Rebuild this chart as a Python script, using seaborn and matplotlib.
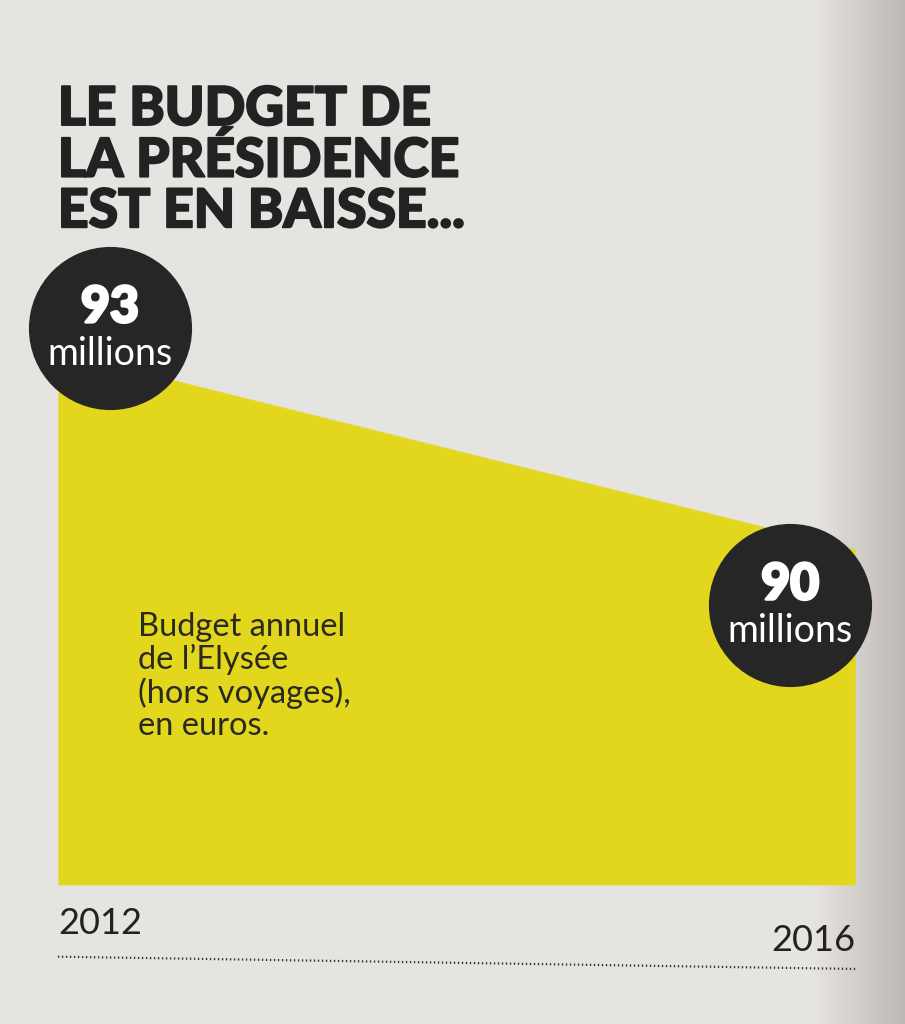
import numpy as np
import pandas as pd
import seaborn as sns
import matplotlib.pyplot as plt
from matplotlib import transforms
import matplotlib.patheffects as pe

years = [2012, 2016]
budget = [93, 90]  # millions d'euros
labels_top = ['93', '90']
year_labels = ['2012', '2016']
title = 'LE BUDGET DE\nLA PRÉSIDENCE\nEST EN BAISSE...'
note = 'Budget annuel\nde l\u2019Elysée\n(hors voyages),\nen euros.'

df = pd.DataFrame({'annee': years, 'budget': budget})

sns.set_theme(style='white')
plt.rcParams['font.family'] = ['Lato', 'DejaVu Sans']

yellow = '#e2d71c'
dark = '#262626'
paper = '#e6e4e1'

fig = plt.figure(figsize=(9.05, 10.24), dpi=100, facecolor=paper)

# page gutter shadow on the right
bg = fig.add_axes([0, 0, 1, 1], zorder=-5)
grad = np.linspace(0, 1, 200)
shade = np.clip((grad - 0.90) / 0.10, 0, 1)
img = np.ones((2, 200, 3))
base = np.array([0xe6, 0xe4, 0xe1]) / 255
edge = np.array([0xbf, 0xb9, 0xb5]) / 255
img[:] = base + (edge - base) * shade[:, None]
bg.imshow(img, aspect='auto', extent=[0, 1, 0, 1])
bg.axis('off')

ax = fig.add_axes([0.064, 0.136, 0.881, 0.5205])
ax.set_facecolor('none')
ax.fill_between(df['annee'], df['budget'], 84.93, color=yellow, lw=0, zorder=1)
sns.lineplot(data=df, x='annee', y='budget', color=yellow, lw=0.5, ax=ax, zorder=1)
ax.set_xlim(2012, 2016)
ax.set_ylim(84.93, 93)
ax.set_xlabel('')
ax.set_ylabel('')
ax.set_yticks([])
ax.set_xticks(years)
ax.set_xticklabels(year_labels, fontsize=26, color='#222222')
ticklabels = ax.get_xticklabels()
ticklabels[0].set_ha('left')
ticklabels[1].set_ha('right')
ax.tick_params(axis='x', length=0, pad=16)
ticklabels[1].set_transform(ticklabels[1].get_transform() +
                            transforms.ScaledTranslation(0, -12 / 72, fig.dpi_scale_trans))
sns.despine(ax=ax, left=True, bottom=True)

# dotted rule under the years
ax.plot([0, 1], [-0.135, -0.158], transform=ax.transAxes, clip_on=False,
        color='#333333', lw=1.6, ls=(0, (0.6, 1.2)))

# value bubbles, offset from the data points
heavy = [pe.withStroke(linewidth=2.0, foreground='white')]
offsets = [(52, 24), (-65, -55)]
for x, y, lab, (dx, dy) in zip(years, budget, labels_top, offsets):
    tr = transforms.offset_copy(ax.transData, fig=fig, x=dx, y=dy, units='dots')
    ax.scatter([x], [y], s=13800, color=dark, transform=tr, clip_on=False,
               zorder=3, linewidths=0)
    ax.text(x, y, lab, transform=transforms.offset_copy(ax.transData, fig=fig, x=dx, y=dy + 20, units='dots'),
            ha='center', va='center', color='white', fontsize=36, fontweight='black',
            zorder=4, path_effects=heavy)
    ax.text(x, y, 'millions', transform=transforms.offset_copy(ax.transData, fig=fig, x=dx, y=dy - 26, units='dots'),
            ha='center', va='center', color='white', fontsize=27, zorder=4)

ax.text(0.100, 0.512, note, transform=ax.transAxes, ha='left', va='top',
        fontsize=23.5, color='#2a2920', linespacing=1.08)

fig.text(0.064, 0.917, title, ha='left', va='top', fontsize=38.5,
         fontweight='black', color='#222222', linespacing=1.04,
         path_effects=[pe.withStroke(linewidth=1.4, foreground='#222222')])

fig.savefig('out.png', dpi=100, facecolor=paper)
